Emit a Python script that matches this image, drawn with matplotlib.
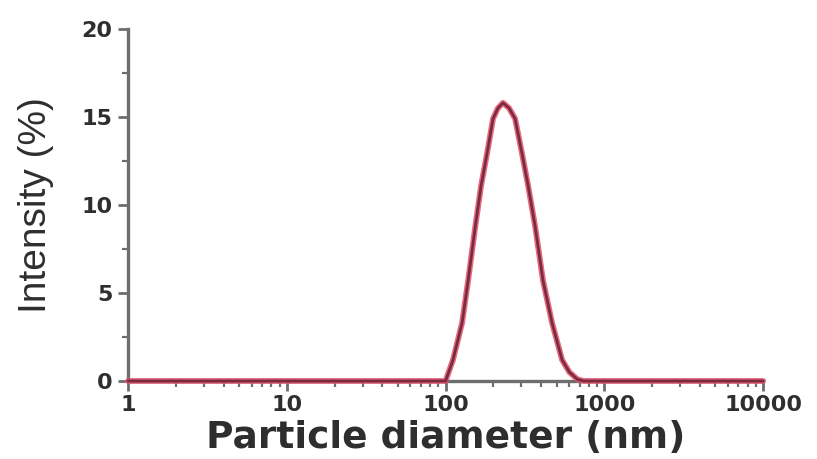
import matplotlib
matplotlib.use("Agg")
import matplotlib.pyplot as plt
from matplotlib.ticker import FixedLocator, NullFormatter

# Data (DLS size distribution)
diameter_nm = [1, 2, 5, 10, 20, 50, 80, 100.0, 111.4, 127.1, 138.7, 153.5, 167.5,
               182.4, 199.1, 213.8, 230.1, 251.2, 274.2, 303.4, 331.1, 366.4,
               411.1, 468.8, 542.0, 602.6, 676.1, 741.3, 1000, 2000, 5000, 10000]
intensity_pct = [0, 0, 0, 0, 0, 0, 0, 0.0, 1.2, 3.3, 5.7, 8.7, 11.1,
                 12.9, 14.9, 15.5, 15.8, 15.5, 14.9, 12.9, 11.1, 8.8,
                 5.7, 3.3, 1.2, 0.5, 0.1, 0.0, 0, 0, 0, 0]

x_ticks = [1, 10, 100, 1000, 10000]
x_ticklabels = ["1", "10", "100", "1000", "10000"]
y_ticks = [0, 5, 10, 15, 20]
y_minor = [2.5, 7.5, 12.5, 17.5]

fig = plt.figure(figsize=(8.17, 4.59), dpi=100)
ax = fig.add_axes([0.1567, 0.170, 0.7773, 0.767])

ax.plot(diameter_nm, intensity_pct, color="#e2506c", lw=4.2, alpha=0.85,
        solid_joinstyle="round", solid_capstyle="round", clip_on=False, zorder=3)
ax.plot(diameter_nm, intensity_pct, color="#7a2c3e", lw=2.0,
        solid_joinstyle="round", solid_capstyle="round", clip_on=False, zorder=4)

ax.set_xscale("log")
ax.set_xlim(1, 10000)
ax.set_ylim(0, 20)

spine_col = "#6e6e6e"
for s in ["top", "right"]:
    ax.spines[s].set_visible(False)
for s in ["left", "bottom"]:
    ax.spines[s].set_color(spine_col)
    ax.spines[s].set_linewidth(2.4)

ax.xaxis.set_major_locator(FixedLocator(x_ticks))
ax.set_xticklabels(x_ticklabels)
ax.xaxis.set_minor_formatter(NullFormatter())
ax.set_yticks(y_ticks)
ax.yaxis.set_minor_locator(FixedLocator(y_minor))

ax.tick_params(axis="both", which="major", direction="out", length=7, width=2,
               color=spine_col, labelcolor="#2e2e2e", labelsize=16, pad=4)
ax.tick_params(axis="x", which="major", pad=3)
ax.tick_params(axis="both", which="minor", direction="out", length=4, width=1.6,
               color=spine_col)
for lab in ax.get_xticklabels() + ax.get_yticklabels():
    lab.set_fontweight("bold")

ax.set_xlabel("Particle diameter (nm)", fontsize=27, fontweight="bold",
              color="#2e2e2e", va="top")
ax.xaxis.set_label_coords(0.5, -0.110)
ax.set_ylabel("Intensity (%)", fontsize=28, family="Liberation Sans",
              color="#2e2e2e", labelpad=20)

fig.savefig("out.png", dpi=100)
